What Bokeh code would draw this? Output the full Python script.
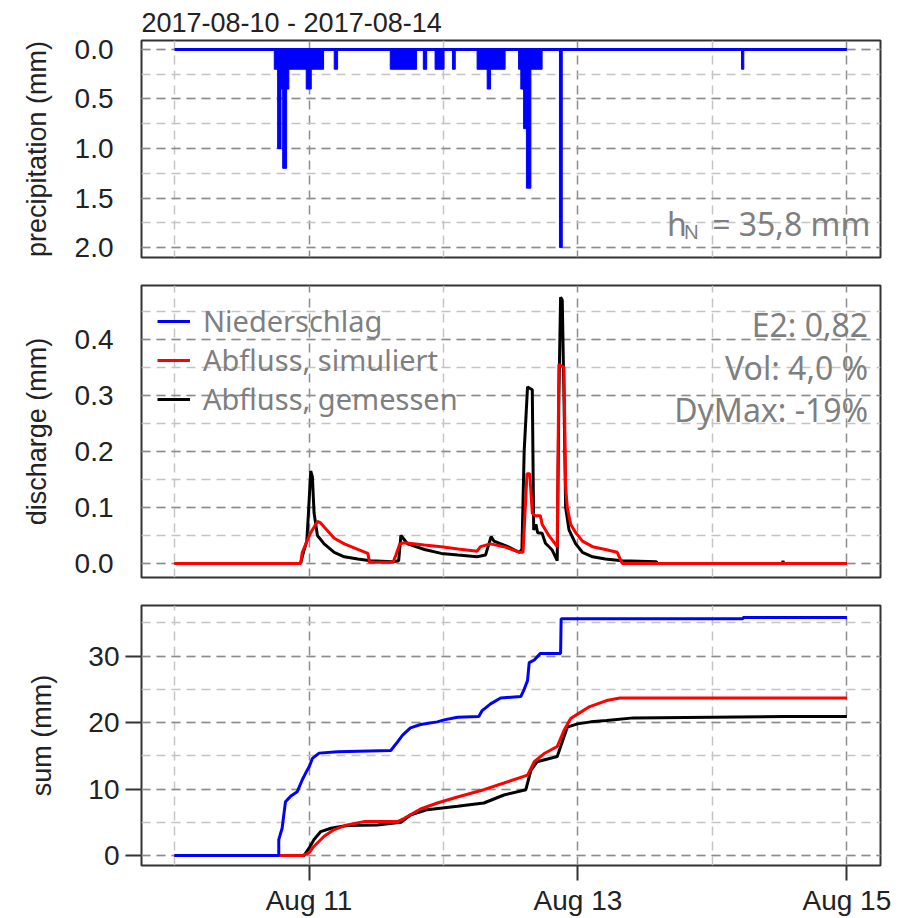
import numpy as np
import pandas as pd
from bokeh.plotting import figure
from bokeh.layouts import column
from bokeh.models import (Range1d, FixedTicker, SingleIntervalTicker, Grid, Label,
                          Legend, LegendItem, PrintfTickFormatter, DatetimeTickFormatter)
from bokeh.embed import file_html
from bokeh.resources import INLINE

# ---------------- data (hours since 2017-08-10 00:00) ----------------
title_text = "2017-08-10 - 2017-08-14"
x_tick_hours = [24, 72, 120]
x_tick_labels = ["Aug 11", "Aug 13", "Aug 15"]
x_minor_hours = [0, 48, 96]

# precipitation episodes: start hour, end hour, depth (mm)
rain_start = [17.8, 18.6, 18.4, 19.3, 20.1, 23.5, 28.5, 38.5, 44.4, 46.5, 49.6, 54.0, 55.8,
              61.4, 61.8, 62.3, 62.8, 68.7, 101.2]
rain_end = [18.8, 20.4, 19.0, 20.0, 26.6, 24.4, 29.1, 43.2, 45.0, 48.1, 50.1, 59.0, 56.4,
            65.6, 62.6, 63.0, 63.6, 69.2, 101.6]
rain_depth = [0.2, 0.4, 1.0, 1.2, 0.2, 0.4, 0.2, 0.2, 0.2, 0.2, 0.2, 0.2, 0.4,
              0.2, 0.4, 0.8, 1.4, 2.0, 0.2]
rain_base_hours = [0, 120]
rain_base_vals = [0, 0]

# discharge, measured
q_obs_hours = [0, 22.5, 23.0, 23.6, 23.9, 24.3, 24.6, 24.9, 25.5, 26.7, 28.5, 30.3, 32.7, 35.0,
               39.0, 40.0, 40.4, 40.8, 41.6, 44.6, 47.6, 50.6, 54.0, 55.5, 56.5, 57.0, 59.5,
               61.5, 62.0, 62.4, 63.0, 63.85, 64.1, 64.5, 64.8, 65.6, 66.2, 67.4, 68.3, 68.6,
               68.9, 69.2, 69.5, 69.8, 70.4, 71.6, 72.8, 74.6, 76.9, 79.9, 86.0, 86.2, 108.5,
               108.6, 108.7, 120]
q_obs = [0, 0, 0.02, 0.04, 0.09, 0.165, 0.155, 0.09, 0.05, 0.035, 0.02, 0.012, 0.008, 0.005,
         0.003, 0.005, 0.05, 0.045, 0.035, 0.025, 0.018, 0.015, 0.012, 0.015, 0.048, 0.04, 0.03,
         0.02, 0.025, 0.2, 0.315, 0.31, 0.06, 0.07, 0.055, 0.054, 0.036, 0.024, 0.005, 0.3,
         0.475, 0.47, 0.3, 0.1, 0.06, 0.035, 0.02, 0.012, 0.008, 0.005, 0.003, 0, 0,
         0.005, 0, 0]

# discharge, simulated
q_sim_hours = [0, 22.5, 22.8, 24.3, 25.5, 26.0, 26.7, 28.5, 30.3, 32.7, 34.5, 34.8, 39.0, 39.5,
               40.2, 41.0, 44.6, 47.6, 50.6, 54.0, 54.6, 56.4, 58.8, 61.6, 62.2, 62.5, 62.9,
               63.4, 63.85, 64.4, 65.3, 65.6, 66.8, 68.3, 68.6, 69.5, 69.8, 70.1, 70.7, 71.6,
               72.8, 74.6, 76.9, 79.0, 79.9, 120]
q_sim = [0, 0, 0.02, 0.055, 0.075, 0.073, 0.065, 0.045, 0.035, 0.025, 0.018, 0.002, 0.002, 0.015,
         0.035, 0.037, 0.033, 0.03, 0.026, 0.022, 0.03, 0.035, 0.03, 0.02, 0.02, 0.08, 0.16,
         0.16, 0.09, 0.085, 0.085, 0.07, 0.05, 0.03, 0.355, 0.35, 0.137, 0.1, 0.07, 0.055,
         0.04, 0.03, 0.025, 0.02, 0.0, 0]

# cumulative sums (mm)
cum_p_hours = [0, 18.6, 18.6, 19.2, 19.8, 20.7, 21.9, 22.8, 23.4, 24.0, 24.6, 25.8, 29.1, 38.6,
               39.8, 40.7, 42.1, 43.9, 46.9, 48.1, 50.5, 54.3, 54.9, 56.4, 58.2, 61.8, 62.4,
               63.0, 63.3, 64.2, 65.3, 68.9, 69.0, 101.4, 101.5, 120]
cum_p = [0, 0, 2.4, 4.1, 8.1, 8.9, 9.6, 11.4, 12.4, 13.3, 14.6, 15.4, 15.6, 15.8, 17.1, 18.1,
         19.2, 19.7, 20.1, 20.4, 20.8, 20.9, 21.8, 22.8, 23.7, 23.9, 25.0, 26.3, 29.0, 29.4,
         30.4, 30.4, 35.6, 35.6, 35.8, 35.8]
cum_sim_hours = [0, 22.8, 24.0, 24.9, 26.7, 28.5, 30.8, 33.8, 39.8, 41.0, 43.9, 46.9, 50.5, 55.2,
                 58.8, 63.0, 64.2, 65.9, 68.3, 69.5, 70.7, 72.0, 74.1, 77.1, 79.5, 120]
cum_sim = [0, 0, 0.4, 1.4, 2.9, 3.9, 4.6, 5.1, 5.1, 5.6, 7.0, 7.9, 8.8, 9.9, 10.9, 12.1, 14.1,
           15.3, 16.4, 18.8, 20.6, 21.3, 22.4, 23.3, 23.7, 23.7]
cum_obs_hours = [0, 23.1, 24.0, 24.9, 26.1, 27.9, 30.8, 36.2, 40.4, 42.1, 45.1, 50.5, 55.2, 57.0,
                 58.8, 62.7, 63.6, 64.7, 68.3, 69.2, 70.1, 71.9, 74.3, 77.1, 81.9, 108.8, 120]
cum_obs = [0, 0, 1.1, 2.4, 3.6, 4.1, 4.5, 4.6, 5.0, 6.1, 6.9, 7.4, 7.9, 8.5, 9.1, 9.9, 12.8,
           14.1, 14.9, 17.1, 19.3, 19.8, 20.1, 20.3, 20.7, 20.9, 20.9]

stats_lines = ["E2: 0,82", "Vol: 4,0 %", "DyMax: -19%"]
legend_labels = ["Niederschlag", "Abfluss, simuliert", "Abfluss, gemessen"]

# ---------------- helpers ----------------
START_MS = pd.Timestamp("2017-08-10 00:00").value // 10**6
HOUR_MS = 3600 * 1000


def ms(hours):
    return [START_MS + h * HOUR_MS for h in hours]


X_RANGE = Range1d(start=ms([-5.9])[0], end=ms([126.0])[0])
GRID_MAJOR = "#8c8c8c"
GRID_MINOR = "#c4c4c4"
DASH = "9 6"
GRAY_TXT = "#7f7f7f"
AX_FONT = "Liberation Sans"
ANN_FONT = "Noto Sans"
BLUE, RED, BLACK = "#0000ff", "#ff0000", "#000000"


def make_fig(height, top, bottom, y_range, yticker, fmt, ylabel, xaxis=False, ticks=False):
    p = figure(width=912, height=height, x_range=X_RANGE, y_range=y_range,
               output_backend="svg", toolbar_location=None,
               x_axis_type="datetime", x_axis_location="below" if xaxis else None,
               min_border_left=141, min_border_right=32, min_border_top=top,
               min_border_bottom=bottom)
    p.grid.visible = False
    p.outline_line_color = "#333333"
    p.outline_line_width = 2
    p.background_fill_color = "white"
    p.border_fill_color = "white"
    xt = FixedTicker(ticks=ms(x_tick_hours), minor_ticks=ms(x_minor_hours))
    p.add_layout(Grid(dimension=0, ticker=xt, grid_line_color=GRID_MAJOR, grid_line_dash=DASH,
                      grid_line_width=1.5, minor_grid_line_color=GRID_MINOR,
                      minor_grid_line_dash=DASH, minor_grid_line_width=1.5))
    p.add_layout(Grid(dimension=1, ticker=yticker, grid_line_color=GRID_MAJOR, grid_line_dash=DASH,
                      grid_line_width=1.5, minor_grid_line_color=GRID_MINOR,
                      minor_grid_line_dash=DASH, minor_grid_line_width=1.5))
    ya = p.yaxis[0]
    ya.ticker = yticker
    ya.formatter = PrintfTickFormatter(format=fmt)
    ya.axis_line_color = None
    ya.minor_tick_line_color = None
    ya.major_label_text_font = AX_FONT
    ya.major_label_text_font_size = "28px"
    ya.major_label_text_color = "#222222"
    ya.axis_label = ylabel
    ya.axis_label_text_font = AX_FONT
    ya.axis_label_text_font_size = "27px"
    ya.axis_label_text_font_style = "normal"
    ya.axis_label_text_color = "#222222"
    if ticks:
        ya.major_tick_out = 16
        ya.major_tick_in = 0
        ya.major_tick_line_width = 2
        ya.major_tick_line_color = "#333333"
        ya.major_label_standoff = 6
        ya.axis_label_standoff = 28
    else:
        ya.major_tick_line_color = None
        ya.major_tick_out = 0
        ya.major_tick_in = 0
        ya.major_label_standoff = 24
        ya.axis_label_standoff = 20
    if xaxis:
        xa = p.xaxis[0]
        xa.ticker = xt
        xa.formatter = DatetimeTickFormatter(days="%b %d", hours="%b %d", months="%b %d")
        xa.major_label_overrides = {float(k): v for k, v in zip(ms(x_tick_hours), x_tick_labels)}
        xa.axis_line_color = None
        xa.minor_tick_line_color = None
        xa.major_tick_out = 15
        xa.major_tick_in = 0
        xa.major_tick_line_width = 2
        xa.major_tick_line_color = "#333333"
        xa.major_label_standoff = 4
        xa.major_label_text_font = AX_FONT
        xa.major_label_text_font_size = "28px"
        xa.major_label_text_color = "#222222"
    return p


# ---------------- panel 1: precipitation ----------------
p1 = make_fig(270, 40, 13, Range1d(start=2.10, end=-0.09),
              SingleIntervalTicker(interval=0.5, num_minor_ticks=2), "%.1f", "precipitation (mm)")
p1.title.text = title_text
p1.title.text_font = AX_FONT
p1.title.text_font_size = "27px"
p1.title.text_font_style = "normal"
p1.title.text_color = "#222222"
p1.title.align = "left"
p1.title.offset = 0
p1.title.standoff = 6

p1.line(ms(rain_base_hours), rain_base_vals, line_color=BLUE, line_width=3)
p1.quad(left=ms(rain_start), right=ms(rain_end), top=[0] * len(rain_depth), bottom=rain_depth,
        fill_color=BLUE, line_color=BLUE, line_width=1)

p1.add_layout(Label(x=ms([87.9])[0], y=1.755, text="h", text_font=ANN_FONT,
                    text_font_size="32px", text_color=GRAY_TXT, text_baseline="alphabetic"))
p1.add_layout(Label(x=ms([90.9])[0], y=1.84, text="N", text_font=ANN_FONT,
                    text_font_size="20px", text_color=GRAY_TXT, text_baseline="alphabetic"))
p1.add_layout(Label(x=ms([124.2])[0], y=1.755, text="= 35,8 mm", text_font=ANN_FONT,
                    text_font_size="32px", text_color=GRAY_TXT, text_baseline="alphabetic",
                    text_align="right"))

# ---------------- panel 2: discharge ----------------
p2 = make_fig(320, 15, 13, Range1d(start=-0.025, end=0.496),
              SingleIntervalTicker(interval=0.1, num_minor_ticks=2), "%.1f", "discharge (mm)")
r_obs = p2.line(ms(q_obs_hours), q_obs, line_color=BLACK, line_width=3)
r_sim = p2.line(ms(q_sim_hours), q_sim, line_color=RED, line_width=3)
# precipitation is only shown in the legend of this panel (values kept off-range)
r_p = p2.line(ms(rain_base_hours), [np.nan, np.nan], line_color=BLUE, line_width=3)

legend = Legend(items=[LegendItem(label=legend_labels[0], renderers=[r_p]),
                       LegendItem(label=legend_labels[1], renderers=[r_sim]),
                       LegendItem(label=legend_labels[2], renderers=[r_obs])],
                location="top_left", margin=16, padding=0, spacing=0,
                border_line_color=None, background_fill_alpha=0,
                label_text_font=ANN_FONT, label_text_font_size="29px",
                label_text_line_height=1.0,
                label_text_color=GRAY_TXT, glyph_width=33, glyph_height=34,
                label_height=34, label_standoff=13)
p2.add_layout(legend)

for txt, yv in zip(stats_lines, [0.427, 0.350, 0.275]):
    p2.add_layout(Label(x=ms([123.8])[0], y=yv, text=txt, text_font=ANN_FONT,
                        text_font_size="32px", text_color=GRAY_TXT, text_align="right",
                        text_baseline="alphabetic"))

# ---------------- panel 3: cumulative sums ----------------
p3 = make_fig(328, 15, 51, Range1d(start=-1.5, end=37.6),
              SingleIntervalTicker(interval=10, num_minor_ticks=2), "%d", "sum (mm)",
              xaxis=True, ticks=True)
p3.line(ms(cum_obs_hours), cum_obs, line_color=BLACK, line_width=3)
p3.line(ms(cum_sim_hours), cum_sim, line_color=RED, line_width=3)
p3.line(ms(cum_p_hours), cum_p, line_color=BLUE, line_width=3)

layout = column(p1, p2, p3, spacing=0)
open("out.html", "w").write(file_html(layout, INLINE))
